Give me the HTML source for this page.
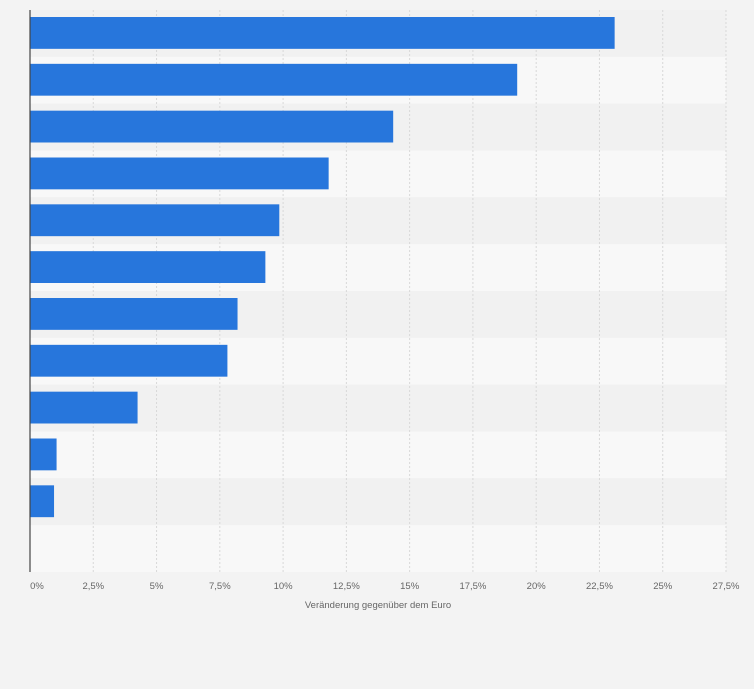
<!DOCTYPE html>
<html><head><meta charset="utf-8"><style>
html,body{margin:0;padding:0;background:#f3f3f3;}
svg{display:block;font-family:"Liberation Sans",sans-serif;}
</style></head><body>
<svg id="chart" width="754" height="689"></svg>
<script>
const categories = ["c1","c2","c3","c4","c5","c6","c7","c8","c9","c10","c11","c12"];
const values = [23.1, 19.25, 14.35, 11.8, 9.85, 9.3, 8.2, 7.8, 4.25, 1.05, 0.95, null];
const ticks = [0,2.5,5,7.5,10,12.5,15,17.5,20,22.5,25,27.5];
const tickLabels = ["0%","2,5%","5%","7,5%","10%","12,5%","15%","17,5%","20%","22,5%","25%","27,5%"];
const NS="http://www.w3.org/2000/svg";
const svg=document.getElementById('chart');
const X0=30,X1=726,Y0=10,Y1=572,XMAX=27.5;
const x=v=>X0+(v/XMAX)*(X1-X0);
const rowH=(Y1-Y0)/categories.length;
const y=i=>Y0+i*rowH;
function mk(t,a){const e=document.createElementNS(NS,t);for(const k in a)e.setAttribute(k,a[k]);svg.appendChild(e);return e;}
categories.forEach((c,i)=>{
  const r=mk('rect',{x:X0,y:y(i),width:X1-X0,height:rowH,fill:i%2==0?'#f1f1f1':'#f8f8f8'});
  
  
});
ticks.forEach((t,i)=>{
  if(i>0){const g=mk('line',{x1:x(t),x2:x(t),y1:Y0,y2:Y1,stroke:'#d8d8d8','stroke-dasharray':'2,2'});
  
  }
  const l=mk('text',{x:x(t)+(i==0?7:0),y:589,'text-anchor':'middle','font-size':'9.5',fill:'#666'});
  l.textContent=tickLabels[i];
  
  
});
values.forEach((v,i)=>{
  if(v==null)return;
  const b=mk('rect',{x:X0,y:y(i)+7,width:x(v)-X0,height:rowH-15,fill:'#2776dc'});
  
  
});
const ax=mk('line',{x1:X0,x2:X0,y1:Y0,y2:Y1,stroke:'#444','stroke-width':1.2});


const tt=mk('text',{x:378,y:608,'text-anchor':'middle','font-size':'9.5',fill:'#666'});
tt.textContent='Veränderung gegenüber dem Euro';


</script>
</body></html>
